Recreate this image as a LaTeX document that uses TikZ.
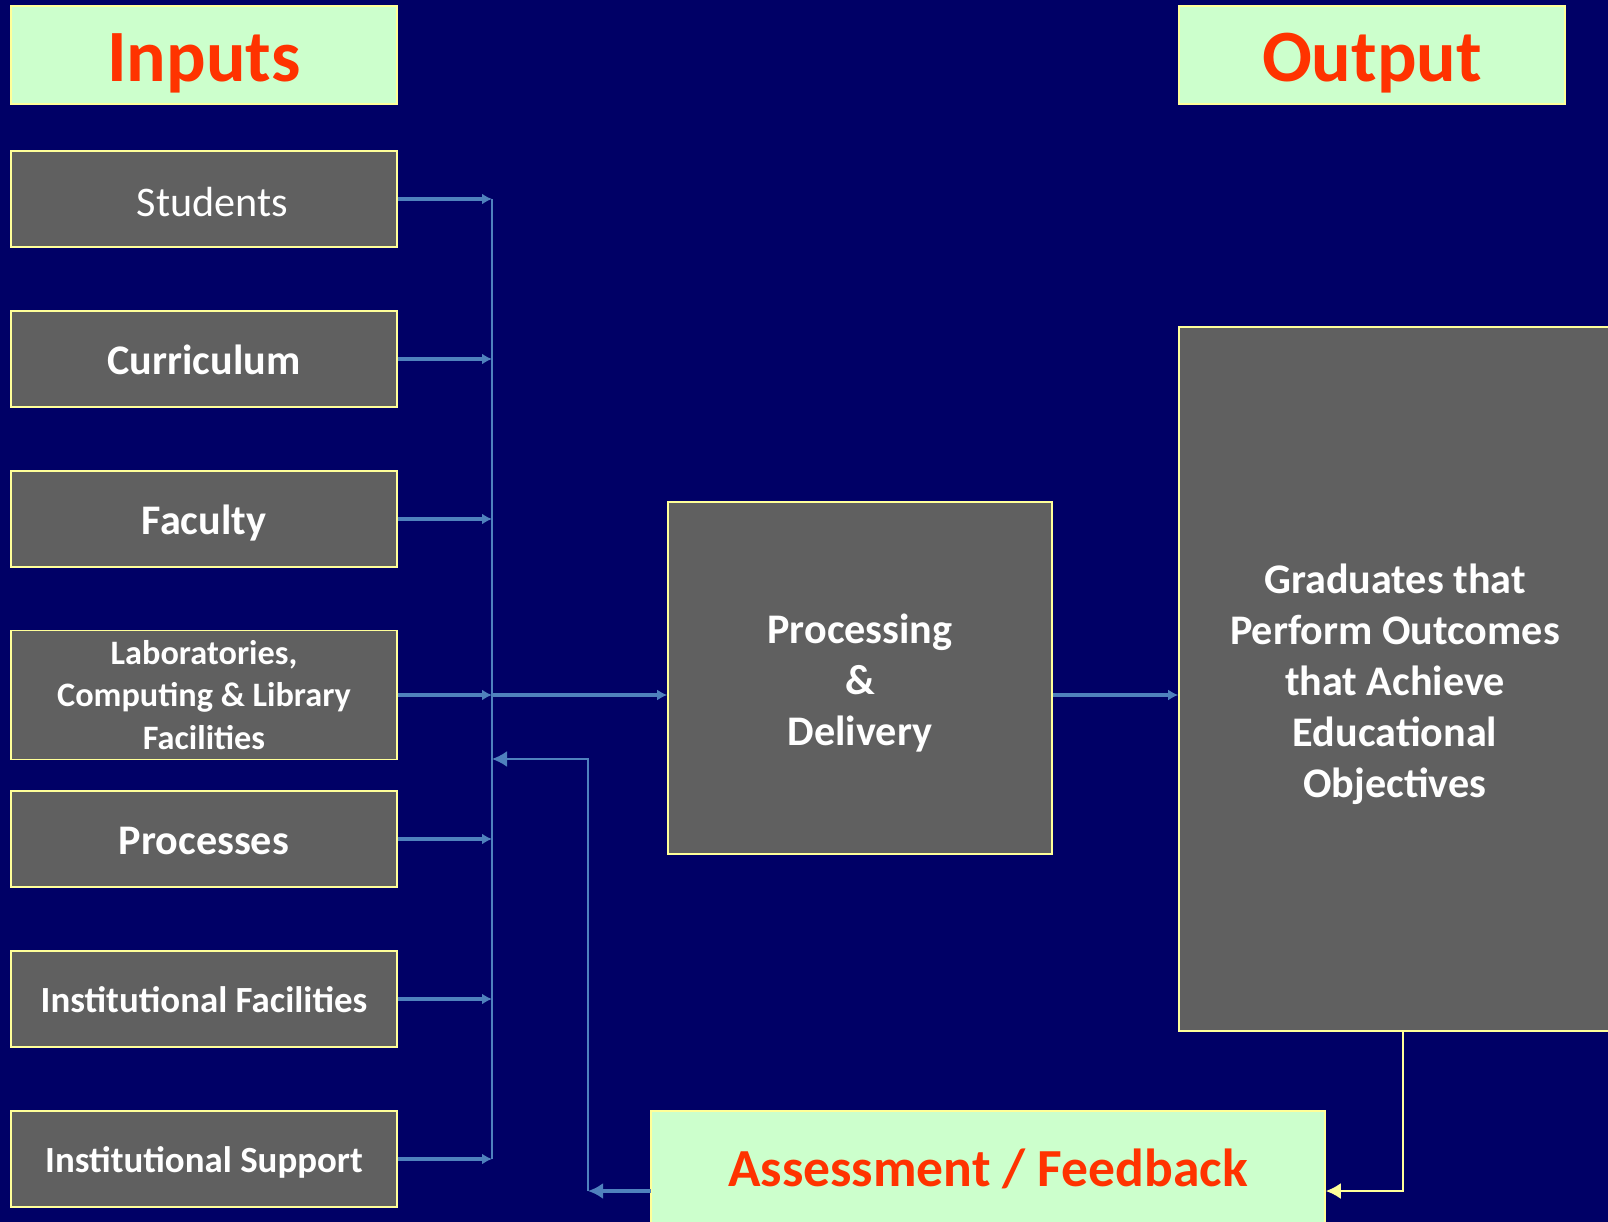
\documentclass[tikz,border=0pt]{standalone}
\usepackage{fontspec}
\setmainfont{Carlito}
\usetikzlibrary{positioning,arrows.meta}

\definecolor{navy}{HTML}{000066}
\definecolor{boxgray}{HTML}{606060}
\definecolor{paleyellow}{HTML}{FFFF99}
\definecolor{mint}{HTML}{CCFFCC}
\definecolor{flame}{HTML}{FF3300}
\definecolor{linkblue}{HTML}{4F81BD}

\tikzset{
  inbox/.style={draw=paleyellow, line width=1pt, fill=boxgray, text=white,
    minimum width=7.72cm, minimum height=1.92cm, inner sep=0pt, align=center,
    font=\bfseries\fontsize{24}{29}\selectfont},
  oneline/.style={text height=17.6pt, text depth=0pt},
  headbox/.style={draw=paleyellow, line width=1pt, fill=mint, text=flame,
    inner sep=0pt, align=center, font=\bfseries\fontsize{42}{50}\selectfont,
    text height=30pt, text depth=0pt},
  feed/.style={linkblue, line width=2.8pt, -{Latex[length=0.2cm,width=0.22cm]}},
  busline/.style={linkblue, line width=1.2pt},
}

\begin{document}
\begin{tikzpicture}[x=0.02cm, y=-0.02cm]
  \fill[navy] (0,0) rectangle (1608,1222);
  \useasboundingbox (0,0) rectangle (1608,1222);

  \node[headbox, minimum width=7.72cm, minimum height=1.96cm] (inputs) at (204,55) {Inputs};
  \node[headbox, minimum width=7.72cm, minimum height=1.96cm] (output) at (1372,55) {Output};

  \node[inbox, oneline, text height=20pt, font=\fontsize{24}{29}\selectfont] (stu) at (204,199) {\hspace*{0.33cm}Students};
  \node[inbox, oneline] (cur) at (204,359) {Curriculum};
  \node[inbox, oneline] (fac) at (204,519) {Faculty};
  \node[inbox, minimum height=2.58cm, font=\bfseries\fontsize{19.5}{24}\selectfont] (lab) at (204,695)
    {Laboratories,\\Computing \& Library\\Facilities};
  \node[inbox, oneline] (pro) at (204,839) {Processes};
  \node[inbox, oneline, text height=15pt, font=\bfseries\fontsize{21}{25}\selectfont] (ifa) at (204,999) {Institutional Facilities};
  \node[inbox, oneline, text height=15pt, font=\bfseries\fontsize{21}{25}\selectfont] (isu) at (204,1159) {Institutional Support};

  \node[inbox, minimum width=7.68cm, minimum height=7.04cm] (proc) at (860,678)
    {\rule{0pt}{23pt}Processing\\\&\\Delivery};
  \node[inbox, minimum width=8.64cm, minimum height=14.08cm] (grad) at (1395,679)
    {\rule{0pt}{23pt}Graduates that\\Perform Outcomes\\that Achieve\\Educational\\Objectives};
  \node[headbox, minimum width=13.48cm, minimum height=2.32cm, text height=20pt,
    font=\bfseries\fontsize{30.5}{36}\selectfont] (fb) at (988,1169) {Assessment / Feedback};

  % bus collecting the inputs
  \coordinate (bus) at (492,0);
  \draw[busline] (stu.east -| bus) -- (isu.east -| bus);
  \foreach \n in {stu,cur,fac,lab,pro,ifa,isu}
    \draw[feed] (\n.east) -- (\n.east -| bus);
  \draw[feed] (lab.east -| bus) -- (proc.west |- lab.east);
  \draw[feed] (proc.east |- lab.east) -- (grad.west |- lab.east);

  % feedback loop
  \coordinate (gradout) at (1403,1031);
  \coordinate (fbout) at (651,1191);
  \coordinate (fbturn) at (588,1191);
  \coordinate (ret) at (492,759);
  \draw[paleyellow, line width=1.2pt, -{Latex[length=0.3cm,width=0.32cm]}] (gradout) |- (fb.east |- fbout);
  \draw[feed, -{Latex[length=0.3cm,width=0.32cm]}] (fbout) -- (fbturn);
  \draw[busline, -{Latex[length=0.3cm,width=0.32cm]}] (fbturn) |- (ret);
\end{tikzpicture}
\end{document}
